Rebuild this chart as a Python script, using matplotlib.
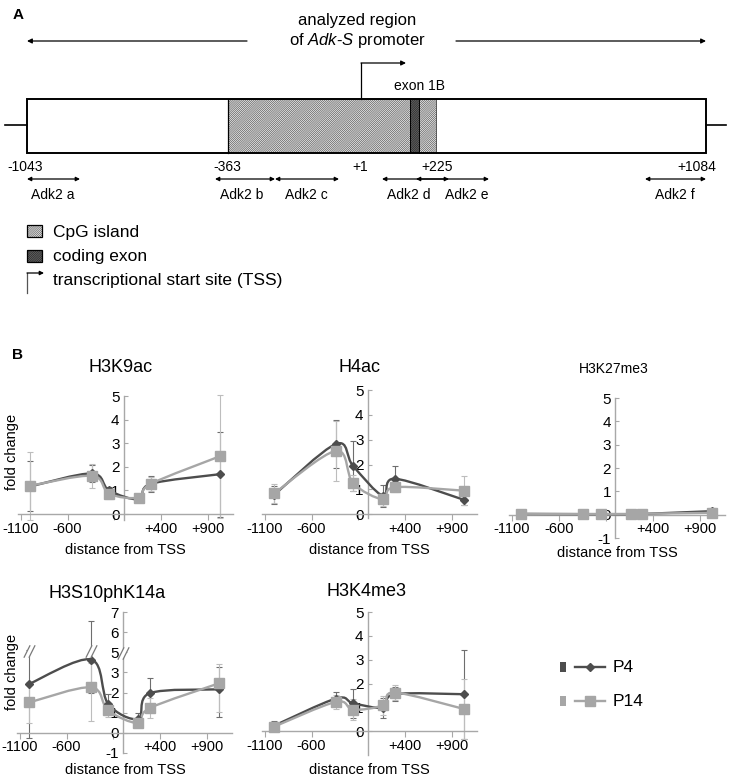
import numpy as np
import matplotlib
matplotlib.use('Agg')
import matplotlib.pyplot as plt
from matplotlib.path import Path
from matplotlib.patches import PathPatch, Rectangle

plt.rcParams['font.family'] = ['Liberation Sans', 'DejaVu Sans']
plt.rcParams['mathtext.fontset'] = 'custom'
plt.rcParams['mathtext.it'] = 'Liberation Sans:italic'
plt.rcParams['mathtext.rm'] = 'Liberation Sans'
plt.rcParams['hatch.linewidth'] = 0.5

# ---------------- data ----------------
amplicons = ['Adk2 a', 'Adk2 b', 'Adk2 c', 'Adk2 d', 'Adk2 e', 'Adk2 f']
positions = [-1000, -338, -155, 165, 290, 1031]          # distance from TSS
x_ticks = [-1100, -600, -100, 400, 900]
x_tick_labels = ['-1100', '-600', '', '+400', '+900']
series_names = ['P4', 'P14']

h3k9ac_p4 = [1.17, 1.72, 1.00, 0.63, 1.28, 1.69]
h3k9ac_p4_err = [1.06, 0.35, 0.15, 0.10, 0.33, 1.80]
h3k9ac_p14 = [1.20, 1.62, 0.86, 0.70, 1.28, 2.45]
h3k9ac_p14_err = [1.45, 0.50, 0.20, 0.12, 0.30, 2.60]

h4ac_p4 = [0.78, 2.83, 1.94, 0.74, 1.43, 0.58]
h4ac_p4_err = [0.35, 0.97, 1.00, 0.45, 0.50, 0.20]
h4ac_p14 = [0.84, 2.55, 1.25, 0.60, 1.09, 0.95]
h4ac_p14_err = [0.38, 1.20, 0.33, 0.25, 0.20, 0.58]

h3k27me3_p4 = [0.03, 0.02, 0.02, 0.02, 0.03, 0.15]
h3k27me3_p4_err = [0.02, 0.02, 0.02, 0.02, 0.02, 0.12]
h3k27me3_p14 = [0.04, 0.03, 0.03, 0.03, 0.04, 0.08]
h3k27me3_p14_err = [0.02, 0.02, 0.02, 0.02, 0.02, 0.04]

h3s10_p4 = [2.43, 4.28, 1.44, 0.69, 1.97, 2.16]
h3s10_p4_err = [2.70, 2.29, 0.50, 0.30, 0.73, 1.35]
h3s10_p14 = [1.51, 2.26, 1.11, 0.49, 1.23, 2.46]
h3s10_p14_err = [1.00, 1.65, 0.30, 0.15, 0.50, 1.40]

h3k4me3_p4 = [0.23, 1.37, 1.17, 0.99, 1.55, 1.55]
h3k4me3_p4_err = [0.20, 0.28, 0.62, 0.42, 0.30, 1.86]
h3k4me3_p14 = [0.19, 1.23, 0.90, 1.09, 1.62, 0.93]
h3k4me3_p14_err = [0.15, 0.30, 0.45, 0.40, 0.30, 1.25]

# ---------------- styles ----------------
W, H = 737, 777
C4, C14 = '#4d4d4d', '#a6a6a6'
E4, E14 = '#6e6e6e', '#bdbdbd'
AXC = '#a8a8a8'
HATCH_CPG = '/' * 16
HATCH_EXON = '/' * 18

fig = plt.figure(figsize=(W / 100, H / 100), dpi=100)
bg = fig.add_axes([0, 0, 1, 1], zorder=-1)
bg.set_xlim(0, W)
bg.set_ylim(H, 0)
bg.axis('off')


def add_ax(x0, x1, y_top, y_bot):
    return fig.add_axes([x0 / W, 1 - y_bot / H, (x1 - x0) / W, (y_bot - y_top) / H])


def smooth_path(x, y):
    x = np.asarray(x, float)
    y = np.asarray(y, float)
    n = len(x)
    verts = [(x[0], y[0])]
    codes = [Path.MOVETO]
    for i in range(n - 1):
        xp, yp = (x[i - 1], y[i - 1]) if i > 0 else (x[i], y[i])
        xn, yn = (x[i + 2], y[i + 2]) if i + 2 < n else (x[i + 1], y[i + 1])
        c1 = (x[i] + (x[i + 1] - xp) / 6, y[i] + (y[i + 1] - yp) / 6)
        c2 = (x[i + 1] - (xn - x[i]) / 6, y[i + 1] - (yn - y[i]) / 6)
        verts += [c1, c2, (x[i + 1], y[i + 1])]
        codes += [Path.CURVE4] * 3
    return Path(verts, codes)


def identity(v):
    return np.asarray(v, float)


def draw_panel(ax, p4, e4, p14, e14, ylim, yticks, yticklabels, fwd=identity):
    ax.set_facecolor('none')
    ax.set_xlim(-1130, 1170)
    ax.set_ylim(*ylim)
    for s in ['top', 'right']:
        ax.spines[s].set_visible(False)
    ax.spines['left'].set_position(('data', 0))
    ax.spines['bottom'].set_position(('data', 0))
    for s in ['left', 'bottom']:
        ax.spines[s].set_color(AXC)
        ax.spines[s].set_linewidth(1.0)
    ax.set_xticks(x_ticks)
    ax.set_xticklabels(x_tick_labels)
    ax.set_yticks(yticks)
    ax.set_yticklabels(yticklabels)
    ax.tick_params(axis='x', direction='out', length=4, color=AXC, labelsize=10.5, pad=1.5)
    ax.tick_params(axis='y', direction='in', length=3, color=AXC, labelsize=11, pad=3)
    for vals, errs, col, ecol, mk, ms in [(p4, e4, C4, E4, 'D', 4.5), (p14, e14, C14, E14, 's', 6.5)]:
        v = np.asarray(vals, float)
        e = np.asarray(errs, float)
        yv = fwd(v)
        lo = fwd(v - e)
        hi = fwd(v + e)
        cont = ax.errorbar(positions, yv, yerr=[yv - lo, hi - yv], fmt='none', ecolor=ecol,
                           elinewidth=0.8, capsize=2.5, capthick=0.8, zorder=2)
        for art in cont.get_children():
            art.set_clip_on(False)
        ax.add_patch(PathPatch(smooth_path(positions, yv), fill=False, edgecolor=col, lw=1.7,
                               zorder=3, clip_on=False))
        ax.plot(positions, yv, ls='none', marker=mk, ms=ms, color=col, zorder=4, clip_on=False)


# ---------------- panel B ----------------
ax1 = add_ax(18, 233, 396, 520)
draw_panel(ax1, h3k9ac_p4, h3k9ac_p4_err, h3k9ac_p14, h3k9ac_p14_err, (-0.25, 5),
           range(6), [str(i) for i in range(6)])
ax2 = add_ax(262, 477, 390, 518)
draw_panel(ax2, h4ac_p4, h4ac_p4_err, h4ac_p14, h4ac_p14_err, (-0.15, 5),
           range(6), [str(i) for i in range(6)])
ax3 = add_ax(509, 725, 398, 538)
draw_panel(ax3, h3k27me3_p4, h3k27me3_p4_err, h3k27me3_p14, h3k27me3_p14_err, (-1, 5),
           range(-1, 6), [str(i) for i in range(-1, 6)])


def brk_scale(v):
    v = np.asarray(v, float)
    return np.where(v <= 3, v, np.where(v <= 5, 3 + (v - 3) / 2, v - 1))


ax4 = add_ax(17, 232, 612, 753)
draw_panel(ax4, h3s10_p4, h3s10_p4_err, h3s10_p14, h3s10_p14_err, (-1, 6),
           range(-1, 7), ['-1', '0', '1', '2', '3', '5', '6', '7'], fwd=brk_scale)
ax5 = add_ax(262, 477, 612, 755)
draw_panel(ax5, h3k4me3_p4, h3k4me3_p4_err, h3k4me3_p14, h3k4me3_p14_err, (-1, 5),
           range(0, 6), [str(i) for i in range(0, 6)])

# axis break marks on the H3S10phK14a panel
para = Path([(-0.9, -1), (0.1, 1), (0.9, 1), (-0.1, -1), (-0.9, -1)],
            [Path.MOVETO, Path.LINETO, Path.LINETO, Path.LINETO, Path.CLOSEPOLY])
slashes = Path([(-0.9, -1), (0.1, 1), (-0.1, -1), (0.9, 1)],
               [Path.MOVETO, Path.LINETO, Path.MOVETO, Path.LINETO])
brk_x = [0, positions[0], positions[1]]
brk_y = [3.95, 4.08, 4.05]
ax4.plot(brk_x, brk_y, ls='none', marker=para, ms=9, mfc='white', mec='none', zorder=6, clip_on=False)
ax4.plot(brk_x, brk_y, ls='none', marker=slashes, ms=9, mfc='none', mec='#7a7a7a', mew=0.9,
         zorder=7, clip_on=False)

# titles & labels
bg.text(121, 368, 'H3K9ac', fontsize=13, ha='center', va='center')
bg.text(360, 368, 'H4ac', fontsize=13, ha='center', va='center')
bg.text(614, 369, 'H3K27me3', fontsize=10, ha='center', va='center')
bg.text(107, 593, 'H3S10phK14a', fontsize=13, ha='center', va='center')
bg.text(367, 592, 'H3K4me3', fontsize=13, ha='center', va='center')
for cx, cy in [(125, 550), (369, 550), (617, 553), (125, 770), (369, 770)]:
    bg.text(cx, cy, 'distance from TSS', fontsize=10.5, ha='center', va='center')
for cy in [452, 672]:
    bg.text(12, cy, 'fold change', fontsize=10.5, ha='center', va='center', rotation=90)
bg.text(18, 355, 'B', fontsize=11, fontweight='bold', ha='center', va='center')

# legend
for (name, col, mk, ms), ly in zip([(series_names[0], C4, 'D', 4.5), (series_names[1], C14, 's', 6.5)],
                                   [667, 701]):
    bg.add_patch(Rectangle((560, ly - 5), 6, 10, facecolor=col, edgecolor='none'))
    bg.plot([575, 605], [ly, ly], color=col, lw=1.7)
    bg.plot([590], [ly], marker=mk, ms=ms, color=col)
    bg.text(613, ly + 1, name, fontsize=12.5, ha='left', va='center')

# ---------------- panel A (schematic) ----------------
bg.text(18, 15, 'A', fontsize=11, fontweight='bold', ha='center', va='center')
bg.text(357, 20, 'analyzed region', fontsize=12, ha='center', va='center')
bg.text(357, 40, 'of $\\mathit{Adk}$-$\\mathit{S}$ promoter', fontsize=12, ha='center', va='center')

arr = dict(arrowstyle='-|>', lw=0.9, color='black', mutation_scale=7, shrinkA=0, shrinkB=0)
bg.annotate('', xy=(27, 41), xytext=(247, 41), arrowprops=arr)
bg.annotate('', xy=(706, 41), xytext=(456, 41), arrowprops=arr)

# stub lines and box
bg.plot([5, 27], [125, 125], color='black', lw=1.2)
bg.plot([706, 726], [125, 125], color='black', lw=1.2)
bg.add_patch(Rectangle((27, 99), 679, 54, facecolor='white', edgecolor='none', zorder=1))
bg.add_patch(Rectangle((228, 99), 208, 54, facecolor='#f2f2f2', edgecolor='#5a5a5a',
                       hatch=HATCH_CPG, lw=0, zorder=2))
bg.add_patch(Rectangle((410, 99), 9, 54, facecolor='#777777', edgecolor='#222222',
                       hatch=HATCH_EXON, lw=0, zorder=3))
bg.plot([228, 228], [99, 153], color='black', lw=0.9, zorder=4)
bg.plot([436, 436], [99, 153], color='#555555', lw=0.7, zorder=4)
bg.plot([410, 410], [99, 153], color='black', lw=0.7, zorder=4)
bg.plot([419, 419], [99, 153], color='black', lw=0.7, zorder=4)
bg.add_patch(Rectangle((27, 99), 679, 54, facecolor='none', edgecolor='black', lw=1.4, zorder=5))

# TSS arrow
bg.plot([361, 361], [99, 63], color='black', lw=0.9)
bg.annotate('', xy=(406, 63), xytext=(361, 63), arrowprops=arr)
bg.text(420, 86, 'exon 1B', fontsize=10, ha='center', va='center')

# coordinates
for lbl, cx in [('-1043', 25), ('-363', 227), ('+1', 360), ('+225', 437), ('+1084', 697)]:
    bg.text(cx, 167, lbl, fontsize=10, ha='center', va='center')

# amplicons
darr = dict(arrowstyle='<|-|>', lw=0.9, color='black', mutation_scale=6, shrinkA=0, shrinkB=0)
amp_spans = [(27, 80), (215, 275), (275, 339), (382, 449), (416, 489), (645, 706)]
amp_label_x = [53, 242, 306, 409, 467, 675]
for name, (x0, x1), lx in zip(amplicons, amp_spans, amp_label_x):
    bg.annotate('', xy=(x1, 179), xytext=(x0, 179), arrowprops=darr)
    bg.text(lx, 195, name, fontsize=10, ha='center', va='center')

# key
bg.add_patch(Rectangle((27, 225), 15, 12, facecolor='#f2f2f2', edgecolor='#5a5a5a', hatch=HATCH_CPG, lw=0))
bg.add_patch(Rectangle((27, 225), 15, 12, facecolor='none', edgecolor='black', lw=0.9))
bg.add_patch(Rectangle((27, 250), 15, 12, facecolor='#777777', edgecolor='#222222', hatch=HATCH_EXON, lw=0))
bg.add_patch(Rectangle((27, 250), 15, 12, facecolor='none', edgecolor='black', lw=0.9))
bg.text(53, 232, 'CpG island', fontsize=12.5, ha='left', va='center')
bg.text(53, 257, 'coding exon', fontsize=12.5, ha='left', va='center')
bg.plot([27, 27], [293, 273], color='#555555', lw=0.9)
bg.annotate('', xy=(44, 273), xytext=(27, 273),
            arrowprops=dict(arrowstyle='-|>', lw=0.9, color='black', mutation_scale=6, shrinkA=0, shrinkB=0))
bg.text(53, 280, 'transcriptional start site (TSS)', fontsize=12.5, ha='left', va='center')

fig.savefig('out.png', dpi=100)
